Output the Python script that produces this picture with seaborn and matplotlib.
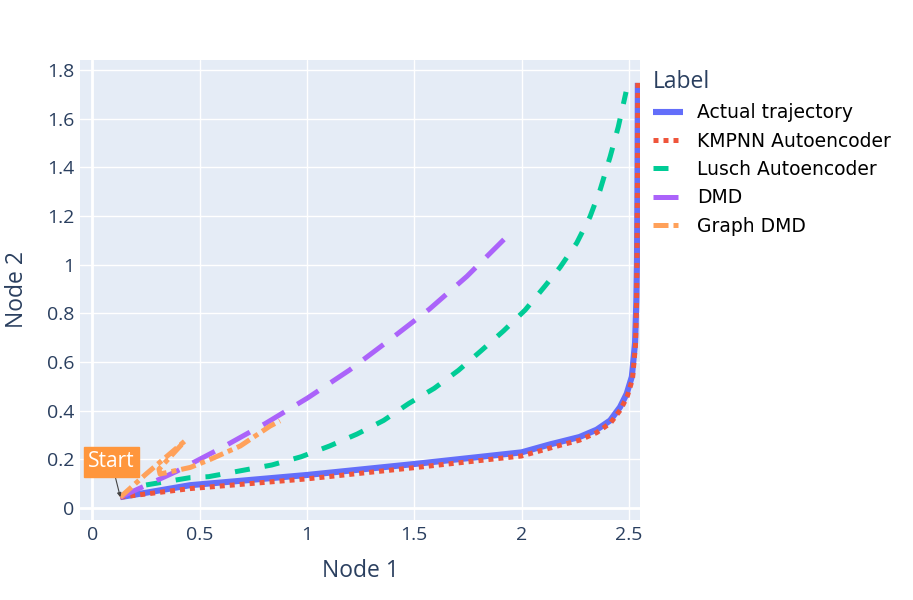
import numpy as np
import pandas as pd
import matplotlib
matplotlib.use("Agg")
import matplotlib.pyplot as plt
from matplotlib.ticker import FuncFormatter, MultipleLocator
import seaborn as sns

sns.set_style("darkgrid")
plt.rcParams['font.family'] = ['Open Sans', 'DejaVu Sans']
plt.rcParams['lines.scale_dashes'] = False

# ---- data ----
labels = ['Actual trajectory', 'KMPNN Autoencoder', 'Lusch Autoencoder', 'DMD', 'Graph DMD']

actual_x = [0.13, 0.455, 1.0, 1.5, 2.0, 2.134, 2.18, 2.27, 2.35, 2.413, 2.459, 2.49, 2.514, 2.529, 2.535, 2.538, 2.540, 2.542]
actual_y = [0.045, 0.094, 0.136, 0.181, 0.229, 0.262, 0.272, 0.292, 0.322, 0.36, 0.415, 0.47, 0.54, 0.68, 0.85, 1.02, 1.3, 1.747]

kmpnn_x = [0.13, 0.455, 1.0, 1.5, 2.0, 2.134, 2.18, 2.27, 2.35, 2.415, 2.462, 2.493, 2.517, 2.531, 2.536, 2.538, 2.540, 2.542]
kmpnn_y = [0.045, 0.08, 0.12, 0.166, 0.214, 0.247, 0.258, 0.279, 0.31, 0.35, 0.405, 0.46, 0.53, 0.67, 0.85, 1.02, 1.3, 1.747]

lusch_x = [0.25, 0.455, 0.541, 0.836, 0.973, 1.105, 1.233, 1.357, 1.473, 1.593, 1.706, 1.811, 1.916, 2.017, 2.11, 2.18, 2.257, 2.319, 2.366, 2.413, 2.451, 2.487]
lusch_y = [0.095, 0.125, 0.129, 0.177, 0.211, 0.255, 0.304, 0.36, 0.429, 0.492, 0.566, 0.646, 0.728, 0.814, 0.913, 0.99, 1.089, 1.197, 1.307, 1.444, 1.567, 1.71]

dmd_x = [0.13, 0.39, 0.603, 0.805, 1.002, 1.198, 1.385, 1.57, 1.745, 1.956]
dmd_y = [0.045, 0.15, 0.248, 0.347, 0.452, 0.567, 0.691, 0.817, 0.952, 1.137]

gdmd_x = [0.13, 0.25, 0.43, 0.31, 0.315, 0.456, 0.549, 0.689, 0.828, 0.874]
gdmd_y = [0.045, 0.14, 0.275, 0.16, 0.14, 0.167, 0.2, 0.255, 0.337, 0.358]

start_x, start_y = 0.13, 0.045

colors = ['#636EFA', '#EF553B', '#00CC96', '#AB63FA', '#FFA15A']

frames = []
for lab, xs, ys in zip(labels,
                       [actual_x, kmpnn_x, lusch_x, dmd_x, gdmd_x],
                       [actual_y, kmpnn_y, lusch_y, dmd_y, gdmd_y]):
    frames.append(pd.DataFrame({'Node 1': xs, 'Node 2': ys, 'Label': lab,
                                'order': range(len(xs))}))
df = pd.concat(frames, ignore_index=True)

fig = plt.figure(figsize=(9.13, 6.0), dpi=100)
ax = fig.add_axes([80 / 913, 1 - 520 / 600, 560 / 913, 460 / 600])
ax.set_facecolor('#E5ECF6')

widths = [4.4, 3.6, 3.6, 3.6, 3.6]
dash_styles = [None, (3.6, 3.6), (10.8, 10.8), (18, 10.8), (10.8, 3.6, 3.6, 3.6)]

handles = []
for lab, col, lw, ds in zip(labels, colors, widths, dash_styles):
    sub = df[df['Label'] == lab]
    sns.lineplot(data=sub, x='Node 1', y='Node 2', sort=False, estimator=None,
                 color=col, linewidth=lw, ax=ax, label=lab)
    line = ax.lines[-1]
    if ds is not None:
        line.set_dashes(ds)
    line.set_solid_capstyle('butt')
    line.set_dash_capstyle('butt')
    handles.append(line)
ax.get_legend().remove()

ax.set_xlim(-0.058, 2.552)
ax.set_ylim(-0.049, 1.841)
ax.xaxis.set_major_locator(MultipleLocator(0.5))
ax.yaxis.set_major_locator(MultipleLocator(0.2))
fmt = FuncFormatter(lambda v, p: '%g' % round(v, 2))
ax.xaxis.set_major_formatter(fmt)
ax.yaxis.set_major_formatter(fmt)
ax.grid(True, color='white', linewidth=1.0)
ax.axhline(0, color='white', linewidth=2, zorder=0.9)
ax.axvline(0, color='white', linewidth=2, zorder=0.9)
for s in ax.spines.values():
    s.set_visible(False)
ax.tick_params(axis='both', length=0, labelsize=14, colors='#2a3f5f', pad=4)
ax.set_xlabel('Node 1', fontsize=16.5, color='#2a3f5f', labelpad=11)
ax.set_ylabel('Node 2', fontsize=16.5, color='#2a3f5f', labelpad=13)

ax.annotate('Start', xy=(start_x, start_y), xytext=(0.089, 0.19),
            textcoords='data', ha='center', va='center', fontsize=15, color='white',
            bbox=dict(boxstyle='square,pad=0.22', fc='#FF963C', ec='#FF963C'),
            arrowprops=dict(arrowstyle='-|>', color='#444444', lw=0.8,
                            mutation_scale=6, shrinkA=0, shrinkB=0))

leg = fig.legend(handles=handles, labels=labels, loc='upper left',
                 bbox_to_anchor=(636 / 913, 1 - 53 / 600), frameon=False,
                 title='Label', alignment='left', handlelength=1.6,
                 handletextpad=0.75, labelspacing=0.5,
                 prop={'family': 'DejaVu Sans', 'size': 13.5})
leg.get_title().set_fontsize(16.5)
leg.get_title().set_color('#2a3f5f')
for t in leg.get_texts():
    t.set_color('black')

fig.savefig('out.png', dpi=100)
